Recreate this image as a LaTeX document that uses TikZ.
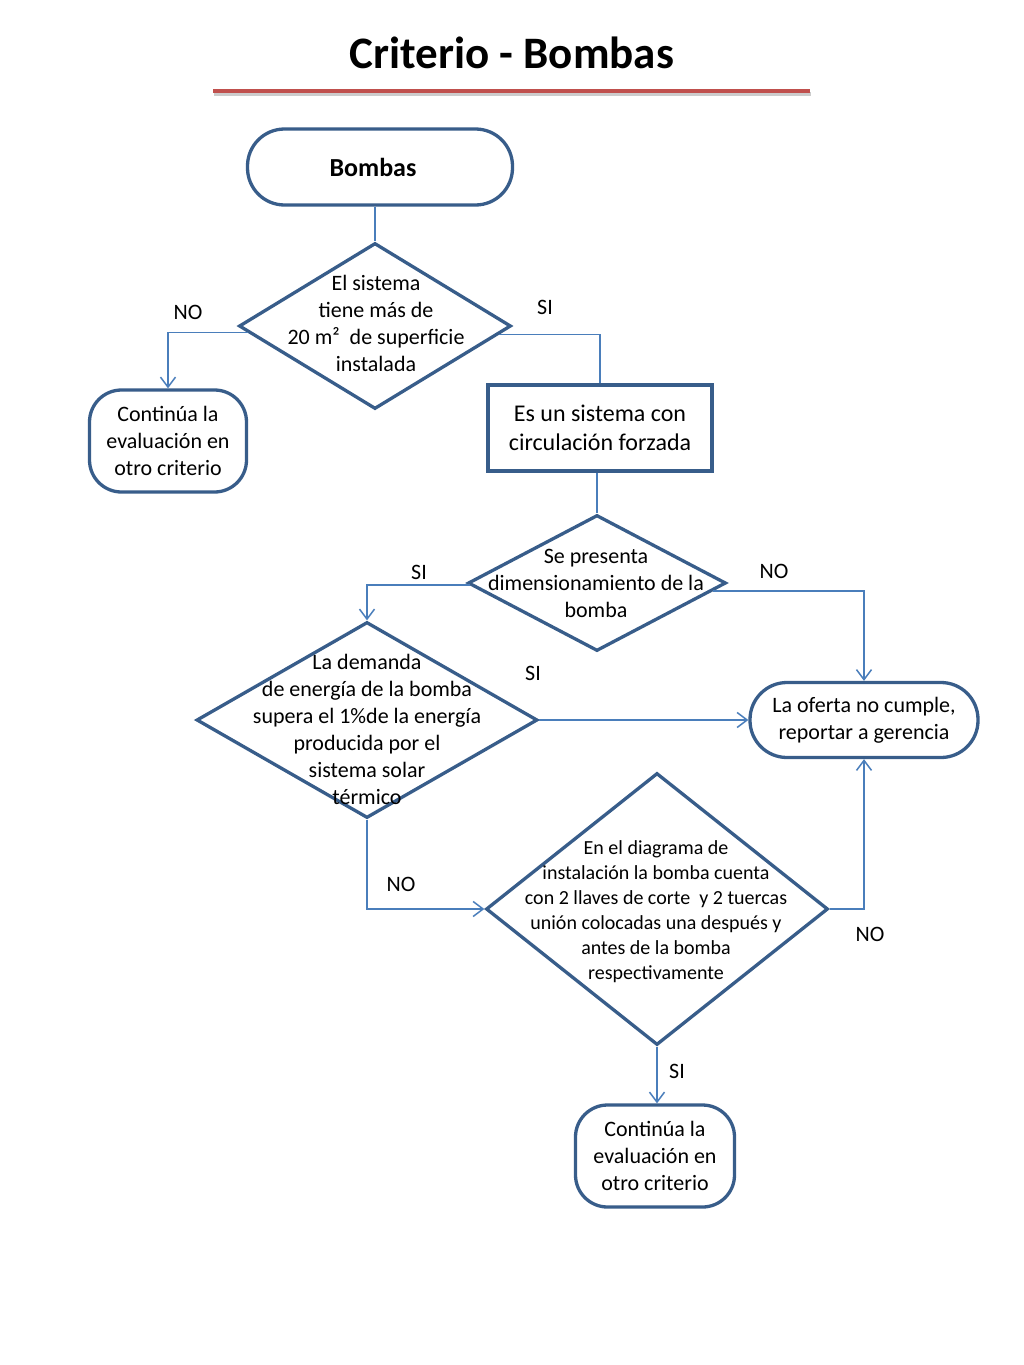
\documentclass[tikz,border=0pt]{standalone}
\usepackage{fontspec}
\setmainfont{Carlito}
\usetikzlibrary{shapes.geometric,arrows.meta,positioning,calc}

\definecolor{borde}{RGB}{56,93,138}
\definecolor{conector}{RGB}{74,126,187}
\definecolor{rojo}{RGB}{192,80,77}

\tikzset{
	forma/.style={draw=borde,line width=3.3pt,fill=white,inner sep=0pt,align=center,font=\fontsize{22}{27}\selectfont},
	decision/.style={forma,diamond},
	terminal/.style={forma,rectangle,rounded corners=#1},
	terminal/.default=37pt,
	proceso/.style={forma,rectangle},
	texto/.style={align=center,font=\fontsize{22}{27}\selectfont},
	linea/.style={draw=conector,line width=1.5pt},
	flecha/.style={linea,-{Straight Barb[length=10pt,width=15pt]}},
}

\begin{document}
\begin{tikzpicture}[x=1pt,y=-1pt]

		\fill[white] (0,0) rectangle (1024,1365);
		\useasboundingbox (0,0) rectangle (1024,1365);

		% titulo
		\node[font=\fontsize{45}{54}\selectfont\bfseries] (titulo) at (512,53) {Criterio - Bombas};
		\draw[line width=4pt,black!20] (214,94) -- (811,94);
		\draw[line width=4pt,rojo] (213,91) -- (810,91);

		% formas
		\node[terminal,minimum width=265pt,minimum height=76pt,font=\fontsize{26}{30}\selectfont\bfseries] (bombas) at (380,167) {Bombas\hspace*{14pt}};
		\node[decision,minimum width=272pt,minimum height=166pt] (d1) at (375,326) {};
		\node[terminal=32pt,minimum width=157pt,minimum height=102pt] (c1) at (168,441) {Continúa la\\evaluación en\\otro criterio};
		\node[proceso,minimum width=224pt,minimum height=86pt,font=\fontsize{24}{29}\selectfont] (sis) at (600,428) {Es un sistema con\\circulación forzada};
		\node[decision,minimum width=258pt,minimum height=136pt] (d2) at (597,583) {};
		\node[decision,minimum width=341pt,minimum height=196pt] (d3) at (367,720) {};
		\node[terminal,minimum width=228pt,minimum height=75pt] (oferta) at (864,720) {La oferta no cumple,\\reportar a gerencia};
		\node[decision,minimum width=342pt,minimum height=272pt] (d4) at (657,909) {};
		\node[terminal=32pt,minimum width=159pt,minimum height=102pt] (c2) at (655,1156) {Continúa la\\evaluación en\\otro criterio};

		% textos de las decisiones
		\node[texto] (t1) at (376,323) {El sistema\\tiene más de\\20 m²\ \ de superficie\\instalada};
		\node[texto] (t2) at (596,583) {Se presenta\\dimensionamiento de la\\bomba};
		\node[texto] (t3) at (367,729) {La demanda\\de energía de la bomba\\supera el 1\%de la energía\\producida por el\\sistema solar\\térmico};
		\node[texto,font=\fontsize{20}{25}\selectfont] (t4) at (656,912) {En el diagrama de\\instalación la bomba cuenta\\con 2 llaves de corte\ \ y 2 tuercas\\unión colocadas una después y\\antes de la bomba\\respectivamente};

		% conectores
		\draw[linea] (d1.north |- bombas.south) -- (d1.north);
		\draw[flecha] (d1.183) -| (c1.north);
		\draw[linea] (d1.-4) -| (sis.north);
		\draw[linea] (sis.south -| d2.north) -- (d2.north);
		\draw[flecha] (d2.181) -| (d3.north);
		\draw[flecha] (d2.-4) -| (oferta.north);
		\draw[flecha] (d3.east) -- (oferta.west);
		\draw[flecha] (d3.south) |- (d4.west);
		\draw[flecha] (d4.east) -| (oferta.south);
		\draw[flecha] (d4.south) -- (d4.south |- c2.north);

		% etiquetas
		\node[texto] (no1) at (188,312) {NO};
		\node[texto] (si1) at (545,307) {SI};
		\node[texto] (si2) at (419,572) {SI};
		\node[texto] (no2) at (774,571) {NO};
		\node[texto] (si3) at (533,673) {SI};
		\node[texto] (no3) at (401,884) {NO};
		\node[texto] (no4) at (870,934) {NO};
		\node[texto] (si4) at (677,1071) {SI};

\end{tikzpicture}
\end{document}
